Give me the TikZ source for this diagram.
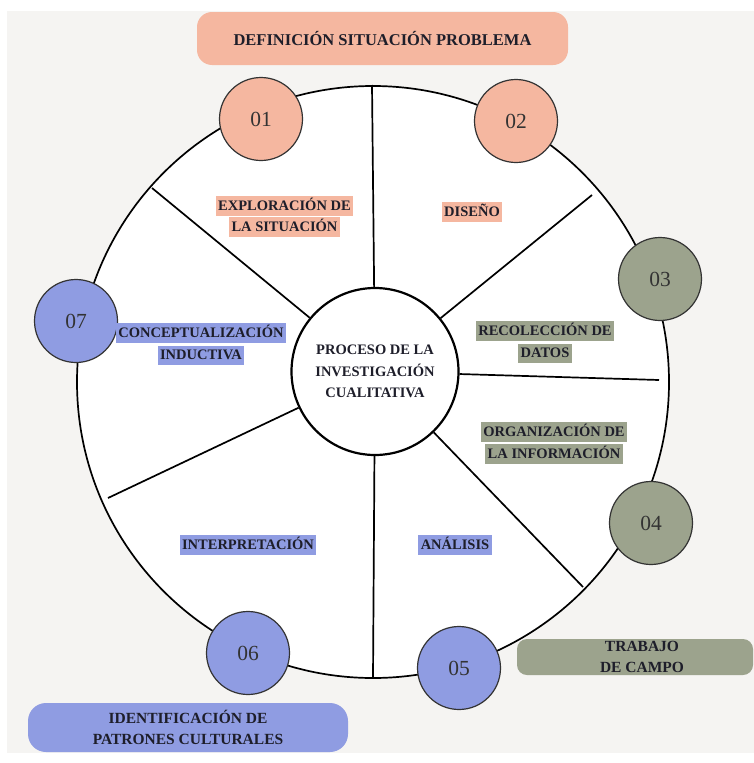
\documentclass[tikz,border=0pt]{standalone}
\usepackage{fontspec}
\setmainfont{Liberation Serif}

\definecolor{salmon}{HTML}{F5B7A0}
\definecolor{sage}{HTML}{9CA38D}
\definecolor{lavender}{HTML}{8F9CE2}
\definecolor{paper}{HTML}{F5F4F2}
\definecolor{ink}{HTML}{1E1E2A}

\newcommand{\hilite}[2]{{\setlength{\fboxsep}{2.5pt}\colorbox{#1}{\rule[-3pt]{0pt}{13.5pt}#2}}}

\tikzset{
  stage/.style={circle,draw=black!80,line width=1.2pt,minimum size=83pt,inner sep=0pt,
    font=\fontsize{21.5}{24}\selectfont,text=black!80},
  phase/.style={align=center,inner sep=0pt,font=\bfseries\fontsize{14.5}{21.5}\selectfont,text=ink},
  banner/.style={rounded corners=15pt,align=center,inner sep=1pt,
    font=\bfseries\fontsize{15.5}{21}\selectfont,text=ink},
  spoke/.style={line width=1.7pt}
}

\begin{document}
\begin{tikzpicture}[x=1pt,y=-1pt]
\useasboundingbox (0,0) rectangle (754,763);
\fill[paper] (7,11) rectangle (754,753);

\node[banner,fill=salmon,minimum width=371pt,minimum height=53pt,
  font=\bfseries\fontsize{16.5}{20}\selectfont] (definicion) at (382.5,38.5) {DEFINICIÓN SITUACIÓN PROBLEMA};
\node[banner,fill=sage,minimum width=236pt,minimum height=36pt,rounded corners=10pt] (campo) at (635,657) {\hspace*{14pt}TRABAJO\\\hspace*{14pt}DE CAMPO};
\node[banner,fill=lavender,minimum width=320pt,minimum height=49pt,rounded corners=18pt] (patrones) at (188,727.5) {IDENTIFICACIÓN DE\\PATRONES CULTURALES};

\node[circle,draw,line width=1.7pt,fill=white,minimum size=592pt,inner sep=0pt] (rueda) at (373,382) {};

\coordinate (r1) at (372,85);
\coordinate (r2) at (592,195);
\coordinate (r3) at (659,380);
\coordinate (r4) at (583,587);
\coordinate (r5) at (373,678);
\coordinate (r6) at (108,498);
\coordinate (r7) at (152,188);

\node[circle,draw,line width=2.2pt,fill=white,minimum size=167pt,phase] (proceso) at (375,371.5)
  {PROCESO DE LA\\INVESTIGACIÓN\\CUALITATIVA};
\foreach \r in {r1,r2,r3,r4,r5,r6,r7}
  \draw[spoke] (proceso) -- (\r);

\node[stage,fill=salmon] (s01) at (261,119) {01};
\node[stage,fill=salmon] (s02) at (516,121) {02};
\node[stage,fill=sage] (s03) at (660,279) {03};
\node[stage,fill=sage] (s04) at (651,523) {04};
\node[stage,fill=lavender] (s05) at (459,668) {05};
\node[stage,fill=lavender] (s06) at (248,653) {06};
\node[stage,fill=lavender] (s07) at (76,321) {07};

\node[phase] (exploracion) at (284.5,216.5) {\hilite{salmon}{EXPLORACIÓN DE}\\\hilite{salmon}{LA SITUACIÓN}};
\node[phase] (diseno) at (472,212) {\hilite{salmon}{DISEÑO}};
\node[phase] (recoleccion) at (545,342) {\hilite{sage}{RECOLECCIÓN DE}\\\hilite{sage}{DATOS}};
\node[phase] (organizacion) at (554,443) {\hilite{sage}{ORGANIZACIÓN DE}\\\hilite{sage}{LA INFORMACIÓN}};
\node[phase] (analisis) at (455,545) {\hilite{lavender}{ANÁLISIS}};
\node[phase] (interpretacion) at (248,545) {\hilite{lavender}{INTERPRETACIÓN}};
\node[phase] (conceptualizacion) at (201,344) {\hilite{lavender}{CONCEPTUALIZACIÓN}\\\hilite{lavender}{INDUCTIVA}};
\end{tikzpicture}
\end{document}
